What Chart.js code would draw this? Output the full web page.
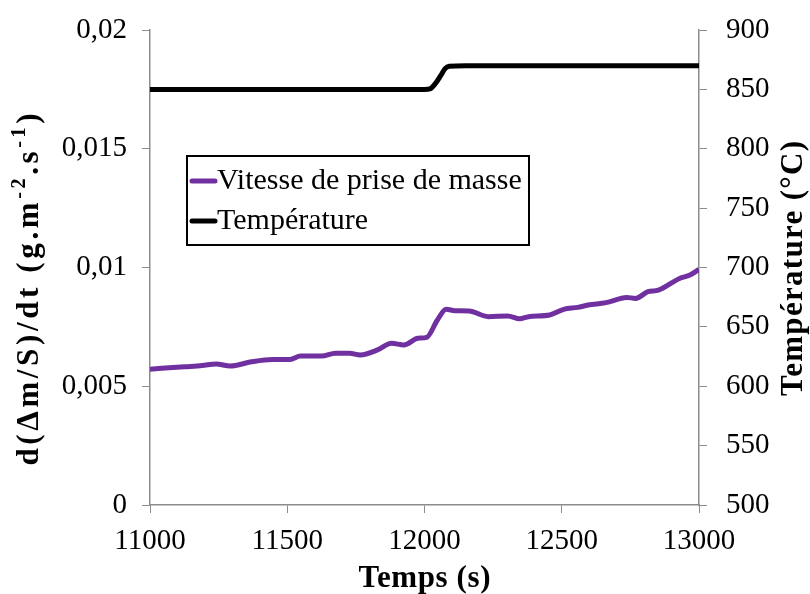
<!DOCTYPE html>
<html>
<head>
<meta charset="utf-8">
<script src="https://cdn.jsdelivr.net/npm/chart.js@4.4.0/dist/chart.umd.min.js"></script>
<style>
  html, body { margin: 0; padding: 0; background: #fff; }
</style>
</head>
<body>
<canvas id="vitesseChart" width="810" height="594"></canvas>
<script>
// Vitesse de prise de masse, d(Δm/S)/dt en g.m-2.s-1
const tempsVitesse = [11000, 11126, 11190, 11241, 11292, 11369, 11446, 11510, 11548, 11625, 11676, 11727, 11766, 11829, 11880, 11925, 11976, 12008, 12047, 12079, 12111, 12162, 12232, 12303, 12347, 12379, 12456, 12507, 12558, 12596, 12661, 12737, 12769, 12814, 12852, 12929, 12967, 13000];
const vitesse = [0.00572, 0.00582, 0.00587, 0.00594, 0.00585, 0.00603, 0.00613, 0.00613, 0.00627, 0.00627, 0.00639, 0.00639, 0.00632, 0.00653, 0.00681, 0.00674, 0.00702, 0.00706, 0.00779, 0.00824, 0.00818, 0.00817, 0.00793, 0.00796, 0.00784, 0.00793, 0.00800, 0.00824, 0.00832, 0.00842, 0.00852, 0.00874, 0.00870, 0.00898, 0.00905, 0.00954, 0.00968, 0.00992];

// Température du four (°C)
const tempsTemperature = [11000, 11500, 12000, 12020, 12040, 12060, 12075, 12090, 12150, 12500, 13000];
const temperature = [850, 850, 850, 850.5, 855, 862, 867.5, 869.5, 870, 870, 870];

const ticksTemps = [11000, 11500, 12000, 12500, 13000];

const couleurVitesse = '#7030a0';
const couleurTemperature = '#000000';
const couleurAxe = '#8c8c8c';
const police = '"Liberation Serif", "DejaVu Serif", serif';

const toPoints = (xs, ys) => xs.map((x, i) => ({ x: x, y: ys[i] }));

// écrit une suite de morceaux (normaux / exposants) centrée sur (cx, cy),
// étirée par l'espacement des lettres jusqu'à la longueur voulue
function texteEtire(ctx, morceaux, cx, cy, angle, longueur, fNormal, fSup) {
  ctx.save();
  ctx.letterSpacing = '0px';
  let naturel = 0, nb = 0;
  morceaux.forEach(m => {
    ctx.font = m.sup ? fSup : fNormal;
    naturel += ctx.measureText(m.t).width;
    nb += m.t.length;
  });
  const esp = Math.max(0, (longueur - naturel) / Math.max(1, nb - 1));
  ctx.letterSpacing = esp.toFixed(2) + 'px';
  ctx.translate(cx, cy);
  ctx.rotate(angle);
  ctx.textAlign = 'left';
  ctx.textBaseline = 'middle';
  let x = -longueur / 2;
  morceaux.forEach(m => {
    ctx.font = m.sup ? fSup : fNormal;
    ctx.fillText(m.t, x, m.sup ? -10 : 0);
    x += ctx.measureText(m.t).width;
  });
  ctx.restore();
}

// titres d'axes (avec exposants) et légende encadrée dessinés à la main
const decorations = {
  id: 'decorations',
  afterDraw(chart) {
    const ctx = chart.ctx;
    const area = chart.chartArea;
    const milieuY = (area.top + area.bottom) / 2;
    const fTitre = 'bold 31px ' + police;
    const fSup = 'bold 20px ' + police;
    ctx.save();
    ctx.fillStyle = '#000';

    texteEtire(ctx, [
      { t: 'd(Δm/S)/dt (g.m', sup: false },
      { t: '-2', sup: true },
      { t: '.s', sup: false },
      { t: '-1', sup: true },
      { t: ')', sup: false }
    ], 30, milieuY + 22, -Math.PI / 2, 352, fTitre, fSup);

    texteEtire(ctx, [{ t: 'Température (°C)', sup: false }],
      794, milieuY + 1, -Math.PI / 2, 255, fTitre, fSup);

    texteEtire(ctx, [{ t: 'Temps (s)', sup: false }],
      (area.left + area.right) / 2, 579, 0, 132, fTitre, fSup);

    // légende
    const bx = 187, by = 156, bw = 342, bh = 89;
    ctx.fillStyle = '#fff';
    ctx.fillRect(bx, by, bw, bh);
    ctx.strokeStyle = '#000';
    ctx.lineWidth = 2;
    ctx.strokeRect(bx, by, bw, bh);
    ctx.font = '30px ' + police;
    ctx.textAlign = 'left';
    ctx.textBaseline = 'middle';
    chart.data.datasets.forEach((ds, i) => {
      const y = by + 25 + i * 40;
      ctx.strokeStyle = ds.borderColor;
      ctx.lineWidth = 5;
      ctx.lineCap = 'round';
      ctx.beginPath();
      ctx.moveTo(192, y);
      ctx.lineTo(215, y);
      ctx.stroke();
      ctx.fillStyle = '#000';
      ctx.fillText(ds.label, 217, y);
    });
    ctx.restore();
  }
};

const policeGraduations = { family: police, size: 29, lineHeight: 0.7 };

new Chart(document.getElementById('vitesseChart'), {
  type: 'line',
  data: {
    datasets: [{
      label: 'Vitesse de prise de masse',
      data: toPoints(tempsVitesse, vitesse),
      borderColor: couleurVitesse,
      borderWidth: 5,
      pointRadius: 0,
      cubicInterpolationMode: 'monotone',
      yAxisID: 'y'
    }, {
      label: 'Température',
      data: toPoints(tempsTemperature, temperature),
      borderColor: couleurTemperature,
      borderWidth: 5,
      pointRadius: 0,
      cubicInterpolationMode: 'monotone',
      yAxisID: 'y1'
    }]
  },
  options: {
    responsive: false,
    animation: false,
    layout: { padding: { top: 30, left: 0, right: 0, bottom: 0 } },
    plugins: { legend: { display: false }, tooltip: { enabled: false } },
    scales: {
      x: {
        type: 'linear',
        min: 11000,
        max: 13000,
        afterBuildTicks: (scale) => { scale.ticks = ticksTemps.map(v => ({ value: v })); },
        afterFit: (scale) => { scale.height = 89; },
        grid: { drawOnChartArea: false, tickLength: 8, color: couleurAxe },
        border: { color: couleurAxe, width: 1.5 },
        ticks: {
          color: '#000',
          font: { family: police, size: 29 },
          padding: 11,
          maxRotation: 0,
          callback: (v) => String(v)
        }
      },
      y: {
        position: 'left',
        min: 0,
        max: 0.02,
        afterFit: (scale) => { scale.width = 150; },
        grid: { drawOnChartArea: false, tickLength: 8, color: couleurAxe },
        border: { color: couleurAxe, width: 1.5 },
        ticks: {
          stepSize: 0.005,
          color: '#000',
          font: policeGraduations,
          padding: 15,
          callback: (v) => Number(v.toFixed(3)).toString().replace('.', ',')
        }
      },
      y1: {
        position: 'right',
        min: 500,
        max: 900,
        afterFit: (scale) => { scale.width = 111; },
        grid: { drawOnChartArea: false, tickLength: 8, color: couleurAxe },
        border: { color: couleurAxe, width: 1.5 },
        ticks: { stepSize: 50, color: '#000', font: policeGraduations, padding: 19 }
      }
    }
  },
  plugins: [decorations]
});
</script>
</body>
</html>
